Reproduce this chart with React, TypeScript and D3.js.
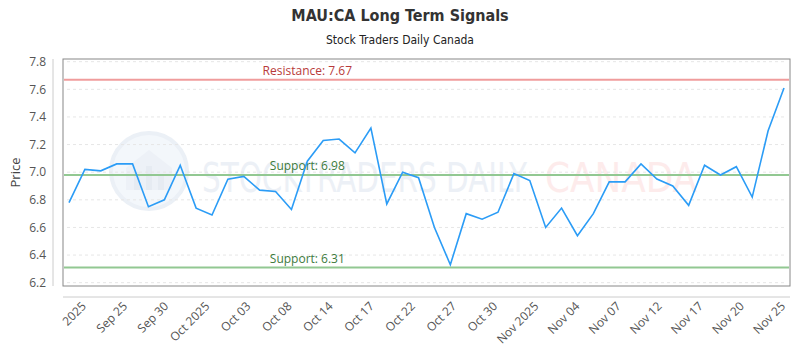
import React from 'react';
import * as d3 from 'd3';

const prices = [
  6.78, 7.02, 7.01, 7.06, 7.06, 6.75, 6.8, 7.05, 6.74, 6.69,
  6.95, 6.97, 6.87, 6.86, 6.73, 7.08, 7.23, 7.24, 7.14, 7.32,
  6.77, 7.0, 6.96, 6.6, 6.33, 6.7, 6.66, 6.71, 6.99, 6.94,
  6.6, 6.74, 6.54, 6.7, 6.93, 6.93, 7.06, 6.95, 6.9, 6.76,
  7.05, 6.98, 7.04, 6.82, 7.3, 7.61,
];

const tickLabels = [
  '2025', 'Sep 25', 'Sep 30', 'Oct 2025', 'Oct 03', 'Oct 08', 'Oct 14', 'Oct 17', 'Oct 22',
  'Oct 27', 'Oct 30', 'Nov 2025', 'Nov 04', 'Nov 07', 'Nov 12', 'Nov 17', 'Nov 20', 'Nov 25',
];

const yTicks = [6.2, 6.4, 6.6, 6.8, 7.0, 7.2, 7.4, 7.6, 7.8];

const levels = [
  { label: 'Resistance', value: 7.67, line: '#f09c9c', text: '#b83a3a' },
  { label: 'Support', value: 6.98, line: '#92c892', text: '#3d7a3d' },
  { label: 'Support', value: 6.31, line: '#92c892', text: '#3d7a3d' },
];

const W = 800;
const H = 350;
const plot = { left: 63, right: 790, top: 59, bottom: 286 };
const font = "'Open Sans', 'Noto Sans', sans-serif";
const condensed = "'DejaVu Sans Condensed', 'Liberation Sans Narrow', sans-serif";

export default function App() {
  const x = d3.scaleLinear().domain([0, prices.length - 1]).range([69, 784]);
  const y = d3.scaleLinear().domain([6.2, 7.8]).range([282.7, 61.7]);
  const xTick = d3.scalePoint<string>().domain(tickLabels).range([x(1), x(prices.length - 1)]);

  const line = d3.line<number>()
    .x((_, i) => x(i))
    .y(d => y(d));

  const labelX = x(15);

  return (
    <svg width={W} height={H} style={{ position: 'absolute', left: 0, top: 0, background: '#fff' }}>
      {/* title */}
      <text x={400} y={21} textAnchor="middle" fontFamily={condensed} fontWeight="bold" fontSize={16} fill="#333">
        MAU:CA Long Term Signals
      </text>
      <text x={400} y={44} textAnchor="middle" fontFamily={condensed} fontSize={12} fill="#222">
        Stock Traders Daily Canada
      </text>

      {/* watermark */}
      <g opacity={0.45}>
        <circle cx={149} cy={171} r={38} fill="#e6eef8" stroke="#d3deec" strokeWidth={4} />
        <path d="M126,190 L126,168 L149,150 L172,168 L172,190 Z" fill="#d8e2ee" />
        <rect x={134} y={172} width={6} height={18} fill="#c8d4e4" />
        <rect x={146} y={166} width={6} height={24} fill="#c8d4e4" />
        <rect x={158} y={175} width={6} height={15} fill="#c8d4e4" />
        <text x={202} y={192} fontFamily={condensed} fontSize={40} fill="#d6e0ec"
          textLength={325} lengthAdjust="spacingAndGlyphs">STOCKTRADERS DAILY</text>
        <text x={545} y={192} fontFamily={condensed} fontSize={40} fill="#fbd4d4"
          textLength={152} lengthAdjust="spacingAndGlyphs">CANADA</text>
      </g>

      {/* grid */}
      {yTicks.map(t => (
        <line key={t} x1={67} x2={785} y1={y(t)} y2={y(t)} stroke="#e6e6e6" strokeDasharray="3,3" />
      ))}

      {/* plot border */}
      <rect x={plot.left} y={plot.top} width={plot.right - plot.left} height={plot.bottom - plot.top}
        fill="none" stroke="#888" strokeWidth={1} />

      {/* y axis */}
      <line x1={53} x2={53} y1={plot.top} y2={plot.bottom} stroke="#ccc" />
      {yTicks.map(t => (
        <text key={t} x={46} y={y(t)} dy="0.35em" textAnchor="end" fontFamily={font} fontSize={12} fill="#555">
          {d3.format('.1f')(t)}
        </text>
      ))}
      <text transform={`translate(20,${(plot.top + plot.bottom) / 2}) rotate(-90)`} textAnchor="middle"
        fontFamily={font} fontSize={13} fill="#444">Price</text>

      {/* x axis */}
      <line x1={plot.left} x2={plot.right} y1={297} y2={297} stroke="#ccc" />
      {tickLabels.map(l => (
        <text key={l} transform={`translate(${(xTick(l) || 0) + 2},307) rotate(-45)`} textAnchor="end"
          fontFamily={font} fontSize={12} fill="#555">{l}</text>
      ))}

      {/* levels */}
      {levels.map((lv, i) => (
        <g key={i}>
          <line x1={plot.left + 1} x2={plot.right - 1} y1={y(lv.value)} y2={y(lv.value)} stroke={lv.line} strokeWidth={2} />
          <text x={labelX} y={y(lv.value) - 5} textAnchor="middle" fontFamily={font} fontSize={12} fill={lv.text}>
            {`${lv.label}: ${lv.value.toFixed(2)}`}
          </text>
        </g>
      ))}

      {/* price line */}
      <path d={line(prices) || ''} fill="none" stroke="#2b9cf6" strokeWidth={1.6} />
    </svg>
  );
}
